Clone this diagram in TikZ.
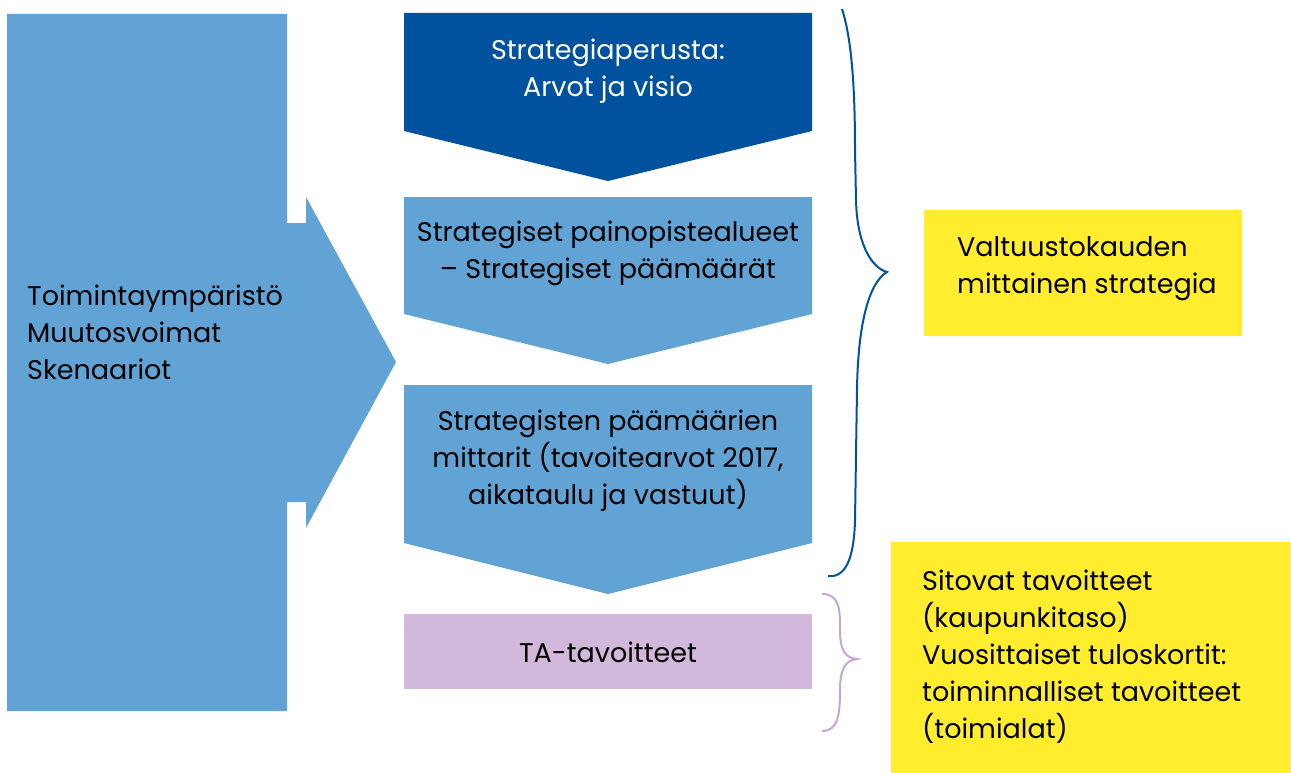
\documentclass[tikz,border=0pt]{standalone}
\usepackage{fontspec}
\setmainfont{Poppins}
\usepackage{tikz}

\definecolor{darkblue}{HTML}{00519E}
\definecolor{lightblue}{HTML}{62A3D6}
\definecolor{lilac}{HTML}{D2B9DB}
\definecolor{lilacline}{HTML}{C6A6D5}
\definecolor{sunyellow}{HTML}{FFED2E}

\tikzset{
    txt/.style={font=\fontsize{27}{37}\selectfont, inner sep=0pt},
    midtxt/.style={txt, align=center},
    lefttxt/.style={txt, align=left, anchor=west},
}

\begin{document}
\begin{tikzpicture}[x=1pt,y=-1pt]
        \useasboundingbox (0,0) rectangle (1291,773);
        % left arrow
        \fill[lightblue] (7,14) -- (287,14) -- (287,223) -- (306,223) -- (306,197)
            -- (396,362) -- (306,528) -- (306,502) -- (287,502) -- (287,711) -- (7,711) -- cycle;
        % chevrons
        \fill[darkblue] (404,13) -- (812,13) -- (812,131) -- (608,181) -- (404,131) -- cycle;
        \fill[lightblue] (404,197) -- (812,197) -- (812,314) -- (608,364) -- (404,314) -- cycle;
        \fill[lightblue] (404,385) -- (812,385) -- (812,543) -- (608,594) -- (404,543) -- cycle;
        \fill[lilac] (404,614) rectangle (812,689);
        % yellow boxes
        \fill[sunyellow] (924,210) rectangle (1242,336);
        \fill[sunyellow] (891,542) rectangle (1291,773);
        % braces
        \draw[darkblue, line width=2pt] (842,9) .. controls (852,40) and (855,90) .. (855,150)
            -- (856,200) .. controls (857,245) and (872,268) .. (887,272)
            .. controls (870,282) and (858,320) .. (857,390) -- (855,520)
            .. controls (854,560) and (845,578) .. (828,576);
        \draw[lilacline, line width=2pt] (822,594) .. controls (840,594) and (840,610) .. (840,630)
            .. controls (840,650) and (845,658) .. (857,659)
            .. controls (845,660) and (840,670) .. (840,690)
            .. controls (840,715) and (838,731) .. (822,731);
        % texts
        \node[lefttxt] (env) at (27,332) {Toimintaympäristö\\Muutosvoimat\\Skenaariot};
        \node[midtxt, text=white] (base) at (608,71) {Strategiaperusta:\\Arvot ja visio};
        \node[midtxt] (focus) at (608,253) {Strategiset painopistealueet\\– Strategiset päämäärät};
        \node[midtxt] (metrics) at (608,461) {Strategisten päämäärien\\mittarit (tavoitearvot 2017,\\aikataulu ja vastuut)};
        \node[midtxt] (ta) at (608,652) {TA-tavoitteet};
        \node[lefttxt] (term) at (957,269) {Valtuustokauden\\mittainen strategia};
        \node[lefttxt] (goals) at (922,657) {Sitovat tavoitteet\\(kaupunkitaso)\\Vuosittaiset tuloskortit:\\toiminnalliset tavoitteet\\(toimialat)};
    \end{tikzpicture}
\end{document}
